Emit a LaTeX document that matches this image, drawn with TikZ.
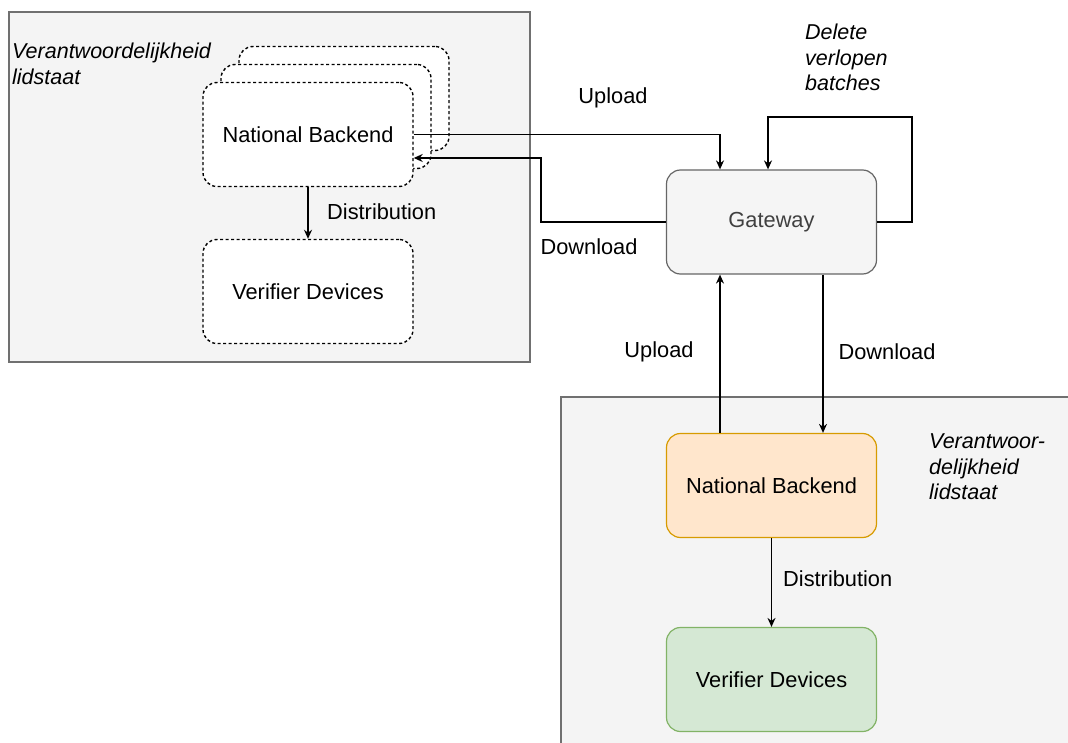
\documentclass[tikz,border=0pt]{standalone}
\usepackage{fontspec}
\setmainfont{Liberation Sans}
\usetikzlibrary{arrows.meta}
\definecolor{panel}{HTML}{F4F4F4}
\definecolor{panelline}{HTML}{707070}
\definecolor{gwfill}{HTML}{F5F5F5}
\definecolor{gwline}{HTML}{666666}
\definecolor{nbfill}{HTML}{FFE6CC}
\definecolor{nbline}{HTML}{D79B00}
\definecolor{vdfill}{HTML}{D5E8D4}
\definecolor{vdline}{HTML}{82B366}
\tikzset{
  txt/.style={font=\fontsize{21.8}{25.5}\selectfont},
  itxt/.style={font=\fontsize{21.5}{25.5}\selectfont\itshape, align=left, anchor=north west, inner sep=0pt},
  lbl/.style={txt, inner sep=0pt},
  unit/.style={txt, rounded corners=14pt, minimum width=210pt, minimum height=104pt, inner sep=0pt, line width=1.2pt},
  dashedunit/.style={unit, draw=black, fill=white, line width=1.4pt, dash pattern=on 3pt off 2.5pt},
  arr/.style={line width=1.5pt, -{Stealth[length=9pt,width=8pt]}},
  region/.style={fill=panel, draw=panelline, line width=1.2pt}
}
\begin{document}
\begin{tikzpicture}[x=1pt, y=-1pt]
  \useasboundingbox (0,0) rectangle (1068,743);
  \fill[white] (0,0) rectangle (1068,743);
  \clip (0,0) rectangle (1068,743);

  % member-state regions
  \draw[region] (9,12) rectangle (530,362);
  \draw[region] (561,397) rectangle (1080,760);

  \node[itxt] (respL) at (12,43) {Verantwoordelijkheid\\lidstaat};
  \node[itxt] (respR) at (929,434) {Verantwoor-\\delijkheid\\lidstaat};

  % stacked national backends (left)
  \node[dashedunit] (nbL3) at (344,98.5) {};
  \node[dashedunit] (nbL2) at (326,116.5) {};
  \node[dashedunit] (nbL) at (308,134.5) {National Backend};
  \node[dashedunit] (vdL) at (308,291.5) {Verifier Devices};

  % gateway
  \node[unit, fill=gwfill, draw=gwline, text=black!75] (gw) at (771.5,222) {Gateway};

  % national backend and verifier devices (right)
  \node[unit, fill=nbfill, draw=nbline] (nbR) at (771.5,485.5) {National Backend};
  \node[unit, fill=vdfill, draw=vdline] (vdR) at (771.5,679.5) {Verifier Devices};

  % connectors
  \draw[arr] (nbL.south) -- (vdL.north);
  \node[lbl, anchor=west] (distL) at (327,212) {Distribution};

  \draw[arr] (nbL.east) -| ([xshift=-51.5pt]gw.north);
  \node[lbl] (upL) at (613,98) {Upload};

  \coordinate (dlturn) at (541,158);
  \draw[arr] (gw.west) -| (dlturn) -- (dlturn -| nbL.east);
  \node[lbl] (dnL) at (589,247) {Download};

  \coordinate (loopR) at (912,117);
  \draw[arr] (gw.east) -| (loopR) -| ([xshift=-3.5pt]gw.north);
  \node[itxt] (del) at (805,24) {Delete\\verlopen\\batches};

  \draw[arr] ([xshift=-51.5pt]nbR.north) -- ([xshift=-51.5pt]gw.south);
  \node[lbl] (upR) at (659,352) {Upload};
  \draw[arr] ([xshift=51.5pt]gw.south) -- ([xshift=51.5pt]nbR.north);
  \node[lbl] (dnR) at (887,352) {Download};

  \draw[arr] (nbR.south) -- (vdR.north);
  \node[lbl, anchor=west] (distR) at (783,579) {Distribution};
\end{tikzpicture}
\end{document}
